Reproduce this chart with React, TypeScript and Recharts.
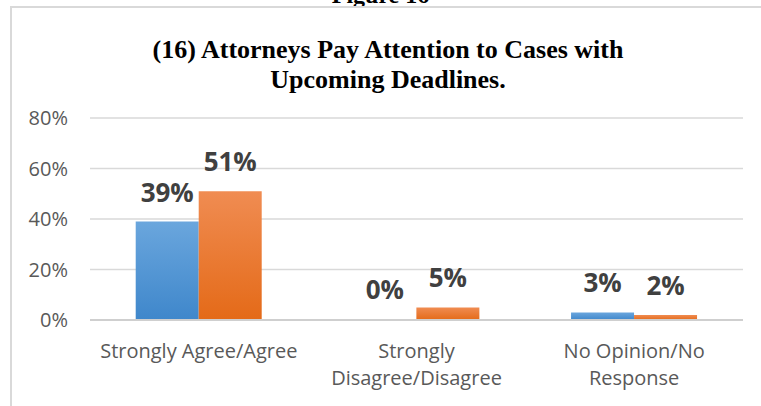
import * as React from "react"
import { BarChart, Bar, XAxis, YAxis, CartesianGrid, LabelList, Cell } from "recharts"

// values (percent)
const categoryLines = [["Strongly Agree/Agree"], ["Strongly", "Disagree/Disagree"], ["No Opinion/No", "Response"]]
const categories = categoryLines.map(l => l.join(" "))
const blueValues = [39, 0, 3]
const orangeValues = [51, 5, 2]
const yTicks = [0, 20, 40, 60, 80]

const data = categories.map((name, i) => ({ name, blue: blueValues[i], orange: orangeValues[i] }))

const FONT = "'Open Sans', 'Liberation Sans', sans-serif"

function CategoryTick(props: any) {
  const { x, y, index } = props
  const lines = categoryLines[index] || []
  return (
    <text x={x} y={y + 30} textAnchor="middle" fill="#595959" fontSize={20} fontFamily={FONT}>
      {lines.map((line, i) => (
        <tspan key={i} x={x} dy={i === 0 ? 0 : 27}>{line}</tspan>
      ))}
    </text>
  )
}

const labelProps = {
  position: "top" as const,
  offset: 20,
  formatter: (v: any) => `${v}%`,
  fill: "#404040",
  fontSize: 26,
  fontWeight: 700,
  fontFamily: FONT,
}

export default function App() {
  return (
    <div style={{ position: "relative", width: 761, height: 406, overflow: "hidden", background: "#fff" }}>
      <style>{`body{margin:0}`}</style>
      {/* figure caption, cut off at the top */}
      <div style={{ position: "absolute", top: -19, left: 0, width: 761, textAlign: "center", fontFamily: "'Liberation Serif', serif", fontWeight: 700, fontSize: 24, lineHeight: "28px" }}>
        Figure 16
      </div>
      {/* chart frame */}
      <div style={{ position: "absolute", left: 10, top: 6, width: 800, height: 450, border: "2px solid #d9d9d9" }} />
      <div style={{ position: "absolute", left: 11, top: 35, width: 754, textAlign: "center", fontFamily: "'Liberation Serif', serif", fontWeight: 700, fontSize: 26, lineHeight: "30px", color: "#000" }}>
        (16) Attorneys Pay Attention to Cases with<br />Upcoming Deadlines.
      </div>
      <div style={{ position: "absolute", left: 0, top: 0 }}>
        <BarChart width={761} height={406} data={data} margin={{ top: 118, right: 18, bottom: 56, left: 0 }} barCategoryGap="21%" barGap={0}>
          <defs>
            <linearGradient id="gBlue" x1="0" y1="0" x2="0" y2="1">
              <stop offset="0%" stopColor="#6aa6dd" />
              <stop offset="100%" stopColor="#3f87cb" />
            </linearGradient>
            <linearGradient id="gOrange" x1="0" y1="0" x2="0" y2="1">
              <stop offset="0%" stopColor="#f08c52" />
              <stop offset="100%" stopColor="#e46a18" />
            </linearGradient>
          </defs>
          <CartesianGrid vertical={false} stroke="#d9d9d9" strokeWidth={1.5} />
          <XAxis dataKey="name" axisLine={{ stroke: "#cfcfcf", strokeWidth: 2 }} tickLine={false} tick={<CategoryTick />} interval={0} />
          <YAxis
            domain={[0, 80]}
            ticks={yTicks}
            width={90}
            axisLine={false}
            tickLine={false}
            tickMargin={16}
            tickFormatter={(v: number) => `${v}%`}
            tick={{ fill: "#595959", fontSize: 20, fontFamily: FONT }}
          />
          <Bar dataKey="blue" fill="url(#gBlue)" minPointSize={1} isAnimationActive={false}>
            {blueValues.map((v, i) => (
              <Cell key={i} fillOpacity={v === 0 ? 0 : 1} />
            ))}
            <LabelList dataKey="blue" {...labelProps} />
          </Bar>
          <Bar dataKey="orange" fill="url(#gOrange)" isAnimationActive={false}>
            <LabelList dataKey="orange" {...labelProps} />
          </Bar>
        </BarChart>
      </div>
    </div>
  )
}
